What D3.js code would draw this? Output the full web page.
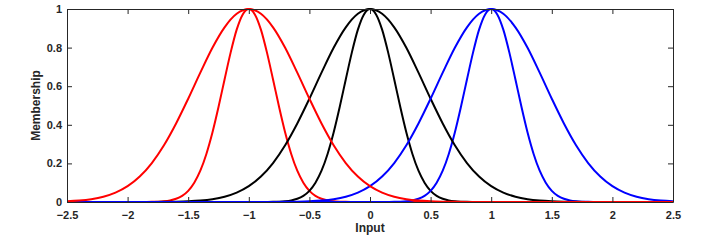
<!DOCTYPE html>
<html>
<head>
<meta charset="utf-8">
<title>Membership functions</title>
<style type="text/css">
  body { margin: 0; background: #fff; }
  text { font-family: "Liberation Sans", Arial, sans-serif; font-weight: bold; fill: #262626; }
</style>
</head>
<body>
<div class="container"></div>
<script src="https://d3js.org/d3.v7.min.js"></script>
<script type="text/javascript">
var wd = 712
var ht = 241

// membership curve shapes (offset from centre -> membership)
var wideOffsets = [-2.0,-1.9,-1.8,-1.7,-1.6,-1.5,-1.4,-1.3,-1.2,-1.1,-1.0,-0.9,-0.8,-0.7,-0.6,-0.5,-0.4,-0.3,-0.2,-0.1,0,
  0.1,0.2,0.3,0.4,0.5,0.6,0.7,0.8,0.9,1.0,1.1,1.2,1.3,1.4,1.5,1.6,1.7,1.8,1.9,2.0]
var wideValues = [0,0.0001,0.0003,0.0007,0.0017,0.0036,0.0074,0.0146,0.0273,0.0486,0.082,0.132,0.202,0.294,0.407,0.535,0.670,0.799,0.905,0.975,1,
  0.975,0.905,0.799,0.670,0.535,0.407,0.294,0.202,0.132,0.082,0.0486,0.0273,0.0146,0.0074,0.0036,0.0017,0.0007,0.0003,0.0001,0]

var narrowOffsets = [-1.0,-0.95,-0.9,-0.85,-0.8,-0.75,-0.7,-0.65,-0.6,-0.55,-0.5,-0.45,-0.4,-0.35,-0.3,-0.25,-0.2,-0.15,-0.1,-0.05,0,
  0.05,0.1,0.15,0.2,0.25,0.3,0.35,0.4,0.45,0.5,0.55,0.6,0.65,0.7,0.75,0.8,0.85,0.9,0.95,1.0]
var narrowValues = [0,0,0.0001,0.0003,0.0007,0.0017,0.0038,0.0082,0.0167,0.032,0.058,0.100,0.162,0.249,0.360,0.492,0.635,0.774,0.893,0.972,1,
  0.972,0.893,0.774,0.635,0.492,0.360,0.249,0.162,0.100,0.058,0.032,0.0167,0.0082,0.0038,0.0017,0.0007,0.0003,0.0001,0,0]

// draw order as in the picture
var curveCentres = [-1, 0, 1, 0, 1, -1]
var curveKinds = ["narrow", "narrow", "narrow", "wide", "wide", "wide"]
var curveColors = ["#ff0000", "#000000", "#0000ff", "#000000", "#0000ff", "#ff0000"]

var xTicks = [-2.5,-2,-1.5,-1,-0.5,0,0.5,1,1.5,2,2.5]
var yTicks = [0,0.2,0.4,0.6,0.8,1]

var m = {left: 67, right: 39, top: 9, bottom: 39}
var w = wd - m.left - m.right
var h = ht - m.top - m.bottom

var svg = d3.select(".container").append("svg")
  .attr("width", wd)
  .attr("height", ht)

var g = svg.append("g").attr("transform", "translate(" + m.left + "," + m.top + ")")

var x = d3.scaleLinear().domain([-2.5, 2.5]).range([0, w])
var y = d3.scaleLinear().domain([0, 1]).range([h, 0])

svg.append("defs").append("clipPath").attr("id", "clip")
  .append("rect").attr("x", 0).attr("y", -2).attr("width", w).attr("height", h + 2)

var line = d3.line()
  .x(function(d) { return x(d[0]) })
  .y(function(d) { return y(d[1]) })
  .curve(d3.curveMonotoneX)

function curvePoints(i) {
  var offs = curveKinds[i] == "wide" ? wideOffsets : narrowOffsets
  var vals = curveKinds[i] == "wide" ? wideValues : narrowValues
  var c = curveCentres[i]
  var pts = []
  if (c + offs[0] > -2.5) pts.push([-2.5, 0])
  offs.forEach(function(o, k) { pts.push([c + o, vals[k]]) })
  if (c + offs[offs.length - 1] < 2.5) pts.push([2.5, 0])
  return pts
}

var plot = g.append("g").attr("clip-path", "url(#clip)")
for (var i = 0; i < curveCentres.length; i++) {
  plot.append("path")
    .attr("d", line(curvePoints(i)))
    .attr("fill", "none")
    .attr("stroke", curveColors[i])
    .attr("stroke-width", 2)
}

// axes, ticks pointing inward, MATLAB style box
var axCol = "#262626"
var xAxis = g.append("g").attr("transform", "translate(0," + h + ")")
  .call(d3.axisBottom(x).tickValues(xTicks).tickSizeInner(-5).tickSizeOuter(0).tickPadding(9).tickFormat(d3.format("")))
var xTop = g.append("g")
  .call(d3.axisTop(x).tickValues(xTicks).tickSizeInner(-5).tickSizeOuter(0).tickFormat(""))
var yAxis = g.append("g")
  .call(d3.axisLeft(y).tickValues(yTicks).tickSizeInner(-5).tickSizeOuter(0).tickPadding(5).tickFormat(d3.format("")))
var yRight = g.append("g").attr("transform", "translate(" + w + ",0)")
  .call(d3.axisRight(y).tickValues(yTicks).tickSizeInner(-5).tickSizeOuter(0).tickFormat(""))

;[xAxis, xTop, yAxis, yRight].forEach(function(a) {
  a.selectAll(".domain").attr("stroke", axCol).attr("stroke-width", 1)
  a.selectAll(".tick line").attr("stroke", axCol).attr("stroke-width", 1)
  a.selectAll("text")
    .style("font-family", "'Liberation Sans', Arial, sans-serif")
    .style("font-weight", "bold")
    .style("font-size", "11px")
    .attr("fill", axCol)
})

g.append("text")
  .attr("x", w / 2)
  .attr("y", h + 30)
  .style("text-anchor", "middle")
  .style("font-size", "12px")
  .text("Input")

g.append("text")
  .attr("transform", "translate(" + (40 - m.left) + "," + (h / 2) + ") rotate(-90)")
  .style("text-anchor", "middle")
  .style("font-size", "12px")
  .text("Membership")
</script>
</body>
</html>
